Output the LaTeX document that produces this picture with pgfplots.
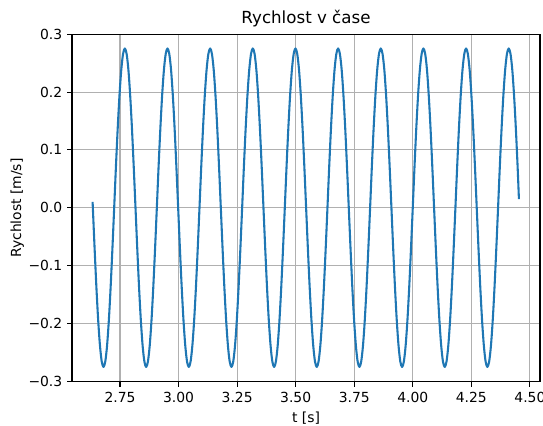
\documentclass[border=0pt]{standalone}
\usepackage{fontspec}
\setmainfont{DejaVu Sans}
\usepackage{pgfplots}
\pgfplotsset{compat=1.18}
\definecolor{tabblue}{HTML}{1F77B4}
\definecolor{gridgray}{HTML}{B0B0B0}
\begin{document}
\begin{tikzpicture}
\begin{axis}[
  set layers=standard,
  scale only axis,
  width=336.96pt, height=250.13pt,
  at={(0pt,0pt)}, anchor=south west,
  xmin=2.545, xmax=4.543,
  ymin=-0.301, ymax=0.300,
  xtick={2.75,3.00,3.25,3.50,3.75,4.00,4.25,4.50},
  xticklabels={2.75,3.00,3.25,3.50,3.75,4.00,4.25,4.50},
  ytick={-0.3,-0.2,-0.1,0,0.1,0.2,0.3},
  yticklabels={−0.3,−0.2,−0.1,0.0,0.1,0.2,0.3},
  xtick pos=bottom, ytick pos=left,
  tick align=outside,
  major tick length=3.5pt,
  every tick/.style={black, line width=0.8pt},
  axis line style={black, line width=0.8pt},
  grid=major,
  major grid style={gridgray, line width=0.8pt, /pgfplots/on layer=axis background},
  tick label style={font=\fontsize{10}{12}\selectfont},
  xticklabel style={yshift=-0.5pt},
  title={Rychlost v čase},
  title style={font=\fontsize{12}{14}\selectfont, yshift=-4.5pt},
  xlabel={t [s]},
  ylabel={Rychlost [m/s]},
  ylabel style={yshift=-3.6pt},
  label style={font=\fontsize{10}{12}\selectfont},
]
\addplot[tabblue, line width=1.5pt, line join=round, line cap=butt, smooth, tension=0.5] coordinates {
(2.6330,0.0100) (2.6340,0) (2.6416,-0.0713) (2.6492,-0.1378) (2.6568,-0.1948) (2.6644,-0.2386) (2.6719,-0.2661) (2.6795,-0.2755) (2.6871,-0.2661) (2.6947,-0.2386) (2.7023,-0.1948) (2.7099,-0.1378) (2.7175,-0.0713) (2.7251,0) (2.7326,0.0713) (2.7402,0.1378) (2.7478,0.1948) (2.7554,0.2386) (2.7630,0.2661) (2.7706,0.2755) (2.7782,0.2661) (2.7858,0.2386) (2.7933,0.1948) (2.8009,0.1378) (2.8085,0.0713)
(2.8161,0) (2.8237,-0.0713) (2.8313,-0.1378) (2.8389,-0.1948) (2.8465,-0.2386) (2.8540,-0.2661) (2.8616,-0.2755) (2.8692,-0.2661) (2.8768,-0.2386) (2.8844,-0.1948) (2.8920,-0.1378) (2.8996,-0.0713) (2.9072,0) (2.9147,0.0713) (2.9223,0.1378) (2.9299,0.1948) (2.9375,0.2386) (2.9451,0.2661) (2.9527,0.2755) (2.9603,0.2661) (2.9679,0.2386) (2.9754,0.1948) (2.9830,0.1378) (2.9906,0.0713)
(2.9982,0) (3.0058,-0.0713) (3.0134,-0.1378) (3.0210,-0.1948) (3.0286,-0.2386) (3.0361,-0.2661) (3.0437,-0.2755) (3.0513,-0.2661) (3.0589,-0.2386) (3.0665,-0.1948) (3.0741,-0.1378) (3.0817,-0.0713) (3.0893,0) (3.0968,0.0713) (3.1044,0.1378) (3.1120,0.1948) (3.1196,0.2386) (3.1272,0.2661) (3.1348,0.2755) (3.1424,0.2661) (3.1500,0.2386) (3.1575,0.1948) (3.1651,0.1378) (3.1727,0.0713)
(3.1803,0) (3.1879,-0.0713) (3.1955,-0.1378) (3.2031,-0.1948) (3.2107,-0.2386) (3.2182,-0.2661) (3.2258,-0.2755) (3.2334,-0.2661) (3.2410,-0.2386) (3.2486,-0.1948) (3.2562,-0.1378) (3.2638,-0.0713) (3.2714,0) (3.2789,0.0713) (3.2865,0.1378) (3.2941,0.1948) (3.3017,0.2386) (3.3093,0.2661) (3.3169,0.2755) (3.3245,0.2661) (3.3321,0.2386) (3.3396,0.1948) (3.3472,0.1378) (3.3548,0.0713)
(3.3624,0) (3.3700,-0.0713) (3.3776,-0.1378) (3.3852,-0.1948) (3.3928,-0.2386) (3.4003,-0.2661) (3.4079,-0.2755) (3.4155,-0.2661) (3.4231,-0.2386) (3.4307,-0.1948) (3.4383,-0.1378) (3.4459,-0.0713) (3.4535,0) (3.4610,0.0713) (3.4686,0.1378) (3.4762,0.1948) (3.4838,0.2386) (3.4914,0.2661) (3.4990,0.2755) (3.5066,0.2661) (3.5142,0.2386) (3.5217,0.1948) (3.5293,0.1378) (3.5369,0.0713)
(3.5445,0) (3.5521,-0.0713) (3.5597,-0.1378) (3.5673,-0.1948) (3.5749,-0.2386) (3.5824,-0.2661) (3.5900,-0.2755) (3.5976,-0.2661) (3.6052,-0.2386) (3.6128,-0.1948) (3.6204,-0.1378) (3.6280,-0.0713) (3.6356,0) (3.6431,0.0713) (3.6507,0.1378) (3.6583,0.1948) (3.6659,0.2386) (3.6735,0.2661) (3.6811,0.2755) (3.6887,0.2661) (3.6963,0.2386) (3.7038,0.1948) (3.7114,0.1378) (3.7190,0.0713)
(3.7266,0) (3.7342,-0.0713) (3.7418,-0.1378) (3.7494,-0.1948) (3.7570,-0.2386) (3.7645,-0.2661) (3.7721,-0.2755) (3.7797,-0.2661) (3.7873,-0.2386) (3.7949,-0.1948) (3.8025,-0.1378) (3.8101,-0.0713) (3.8177,0) (3.8252,0.0713) (3.8328,0.1378) (3.8404,0.1948) (3.8480,0.2386) (3.8556,0.2661) (3.8632,0.2755) (3.8708,0.2661) (3.8784,0.2386) (3.8859,0.1948) (3.8935,0.1378) (3.9011,0.0713)
(3.9087,0) (3.9163,-0.0713) (3.9239,-0.1378) (3.9315,-0.1948) (3.9391,-0.2386) (3.9466,-0.2661) (3.9542,-0.2755) (3.9618,-0.2661) (3.9694,-0.2386) (3.9770,-0.1948) (3.9846,-0.1378) (3.9922,-0.0713) (3.9998,0) (4.0073,0.0713) (4.0149,0.1378) (4.0225,0.1948) (4.0301,0.2386) (4.0377,0.2661) (4.0453,0.2755) (4.0529,0.2661) (4.0605,0.2386) (4.0680,0.1948) (4.0756,0.1378) (4.0832,0.0713)
(4.0908,0) (4.0984,-0.0713) (4.1060,-0.1378) (4.1136,-0.1948) (4.1212,-0.2386) (4.1287,-0.2661) (4.1363,-0.2755) (4.1439,-0.2661) (4.1515,-0.2386) (4.1591,-0.1948) (4.1667,-0.1378) (4.1743,-0.0713) (4.1819,0) (4.1894,0.0713) (4.1970,0.1378) (4.2046,0.1948) (4.2122,0.2386) (4.2198,0.2661) (4.2274,0.2755) (4.2350,0.2661) (4.2426,0.2386) (4.2501,0.1948) (4.2577,0.1378) (4.2653,0.0713)
(4.2729,0) (4.2805,-0.0713) (4.2881,-0.1378) (4.2957,-0.1948) (4.3033,-0.2386) (4.3108,-0.2661) (4.3184,-0.2755) (4.3260,-0.2661) (4.3336,-0.2386) (4.3412,-0.1948) (4.3488,-0.1378) (4.3564,-0.0713) (4.3640,0) (4.3715,0.0713) (4.3791,0.1378) (4.3867,0.1948) (4.3943,0.2386) (4.4019,0.2661) (4.4095,0.2755) (4.4171,0.2661) (4.4247,0.2386) (4.4322,0.1948) (4.4398,0.1378) (4.4474,0.0713)
(4.4530,0.0150)
};
\end{axis}
\pgfresetboundingbox
\path (-51.84pt,-31.18pt) rectangle (339.12pt,274.82pt);
\end{tikzpicture}
\end{document}
